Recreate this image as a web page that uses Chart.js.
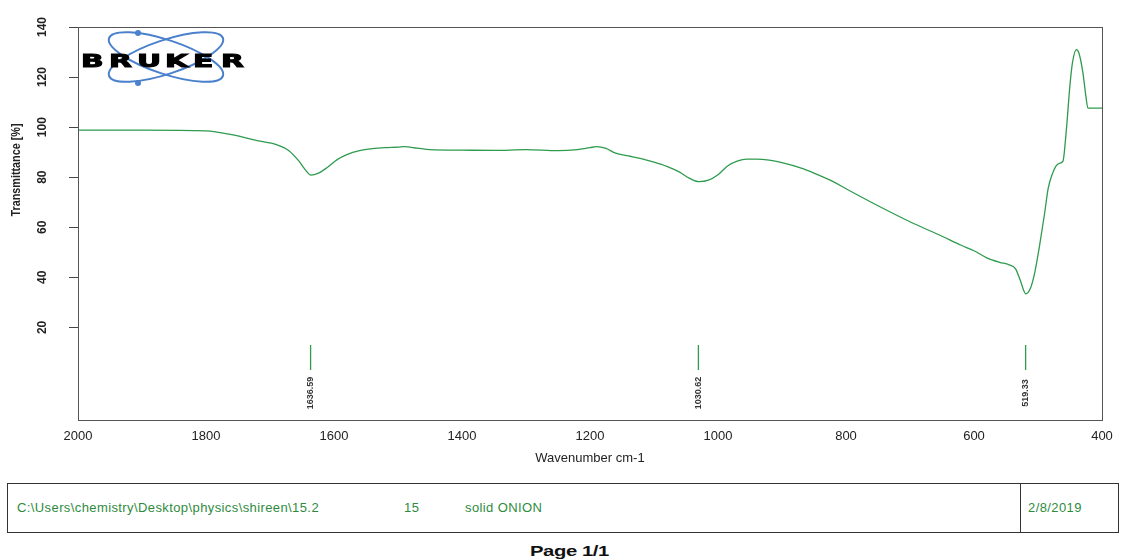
<!DOCTYPE html>
<html>
<head>
<meta charset="utf-8">
<script src="https://cdn.jsdelivr.net/npm/chart.js@4/dist/chart.umd.min.js"></script>
<style>
  body { margin: 0; background: #fff; width: 1122px; height: 559px; position: relative; overflow: hidden; font-family: "Liberation Sans", Arial, sans-serif; }
  #wrap { position: absolute; left: 0; top: 0; width: 1122px; height: 470px; }
  #info { position: absolute; left: 7px; top: 483px; width: 1110px; height: 48px; border: 1px solid #333; }
  #info .sep { position: absolute; left: 1012px; top: 0; height: 48px; border-left: 1px solid #333; }
  #info span { position: absolute; top: 16px; font-size: 13px; color: #2e8b3e; letter-spacing: 0.4px; }
  #page { position: absolute; top: 542px; left: 530px; font-size: 15px; font-weight: bold; letter-spacing: -0.3px; color: #111; transform: scaleX(1.35); transform-origin: left top; }
</style>
</head>
<body>
<div id="wrap"><canvas id="ir" width="1122" height="470"></canvas></div>
<div id="info">
  <span style="left:9px">C:\Users\chemistry\Desktop\physics\shireen\15.2</span>
  <span style="left:396px">15</span>
  <span style="left:457px">solid ONION</span>
  <div class="sep"></div>
  <span style="left:1020px">2/8/2019</span>
</div>
<div id="page">Page 1/1</div>
<script>
// spectrum
const wavenumbers = [2000, 1900, 1800, 1760, 1720, 1690, 1670, 1655, 1645, 1636, 1625, 1610, 1595, 1580, 1560, 1540, 1520, 1500, 1490, 1470, 1450, 1400, 1350, 1300, 1250, 1220, 1200, 1190, 1175, 1160, 1140, 1120, 1100, 1080, 1060, 1045, 1030, 1015, 1000, 985, 970, 955, 940, 920, 900, 870, 850, 820, 800, 750, 700, 650, 620, 600, 580, 560, 545, 535, 528, 519, 512, 505, 498, 490, 484, 478, 472, 466, 461, 456, 450, 446, 440, 436, 430, 425, 422, 420, 400];
const transmittance = [98.8, 98.8, 98.5, 97.0, 94.6, 93.0, 90.5, 86.5, 83.0, 80.8, 81.5, 84.0, 87.0, 89.0, 90.6, 91.4, 91.8, 92.0, 92.2, 91.6, 91.0, 90.8, 90.7, 91.0, 90.6, 91.0, 91.8, 92.2, 91.5, 89.6, 88.5, 87.4, 86.0, 84.3, 82.0, 79.6, 78.2, 78.8, 81.0, 84.5, 86.4, 87.2, 87.2, 86.8, 85.8, 83.6, 81.6, 78.2, 75.4, 68.6, 62.2, 56.4, 52.8, 50.6, 47.8, 46.0, 45.0, 43.4, 39.0, 33.4, 35.5, 42.0, 52.0, 65.0, 75.6, 81.0, 84.4, 85.6, 86.4, 98.0, 117.0, 126.0, 131.0, 129.5, 122.0, 112.0, 107.6, 107.6, 107.6];
const peakPositions = [1636.59, 1030.62, 519.33];
const peakLabels = ['1636.59', '1030.62', '519.33'];
const yTicks = [20, 40, 60, 80, 100, 120, 140];
const xTicks = [2000, 1800, 1600, 1400, 1200, 1000, 800, 600, 400];

const green = '#2e9b4e';
const spectrum = wavenumbers.map((w, i) => ({ x: w, y: transmittance[i] }));
const markers = [];
peakPositions.forEach(p => { markers.push({ x: p, y: 13 }, { x: p, y: 3 }, { x: p, y: null }); });

const extras = {
  id: 'extras',
  afterDraw(chart) {
    const ctx = chart.ctx, a = chart.chartArea;
    const xs = chart.scales.x, ys = chart.scales.y;
    ctx.save();
    // frame
    ctx.strokeStyle = '#555';
    ctx.lineWidth = 1;
    ctx.strokeRect(a.left + 0.5, a.top + 0.5, a.right - a.left, a.bottom - a.top);
    // y tick labels, rotated
    ctx.fillStyle = '#222';
    ctx.font = 'bold 12px "Liberation Sans", Arial';
    ctx.textAlign = 'center';
    ctx.textBaseline = 'middle';
    yTicks.forEach(v => {
      ctx.save();
      ctx.translate(43, ys.getPixelForValue(v));
      ctx.rotate(-Math.PI / 2);
      ctx.fillText(String(v), 0, 0);
      ctx.restore();
    });
    // y title
    ctx.save();
    ctx.translate(17, 170);
    ctx.rotate(-Math.PI / 2);
    ctx.scale(0.9, 1);
    ctx.font = 'bold 12px "Liberation Sans", Arial';
    ctx.fillText('Transmittance [%]', 0, 0);
    ctx.restore();
    // peak labels
    ctx.font = 'bold 9px "Liberation Sans", Arial';
    ctx.fillStyle = '#333';
    peakPositions.forEach((p, i) => {
      ctx.save();
      ctx.translate(xs.getPixelForValue(p), 393);
      ctx.rotate(-Math.PI / 2);
      ctx.fillText(peakLabels[i], 0, 0);
      ctx.restore();
    });
    // Bruker logo
    ctx.strokeStyle = '#4a80cc';
    ctx.lineWidth = 2;
    [0.32, -0.32].forEach(r => {
      ctx.beginPath();
      ctx.ellipse(166, 57, 60, 17, r, 0, Math.PI * 2);
      ctx.stroke();
    });
    ctx.fillStyle = '#4a80cc';
    [[138, 33], [138, 83]].forEach(([x, y]) => { ctx.beginPath(); ctx.arc(x, y, 3, 0, Math.PI * 2); ctx.fill(); });
    ctx.fillStyle = '#000';
    ctx.strokeStyle = '#000';
    ctx.lineWidth = 1;
    ctx.font = 'bold 18px "DejaVu Sans", Arial';
    ctx.textAlign = 'left';
    ctx.textBaseline = 'alphabetic';
    'BRUKER'.split('').forEach((c, i) => {
      ctx.save();
      ctx.translate(81 + i * 28, 67);
      ctx.scale(1.65, 1);
      ctx.fillText(c, 0, 0);
      ctx.strokeText(c, 0, 0);
      ctx.restore();
    });
    ctx.restore();
  }
};

new Chart(document.getElementById('ir'), {
  type: 'line',
  data: {
    datasets: [
      { data: spectrum, borderColor: green, borderWidth: 1.3, pointRadius: 0, tension: 0.4, cubicInterpolationMode: 'monotone' },
      { data: markers, borderColor: green, borderWidth: 1.3, pointRadius: 0, spanGaps: false }
    ]
  },
  options: {
    responsive: false,
    animation: false,
    layout: { padding: { top: 27, right: 20, left: 0, bottom: 0 } },
    plugins: { legend: { display: false }, tooltip: { enabled: false } },
    scales: {
      x: {
        type: 'linear', reverse: true, min: 400, max: 2000,
        afterBuildTicks: s => { s.ticks = xTicks.map(v => ({ value: v })); },
        afterFit: s => { s.height = 50; },
        grid: { display: false, drawTicks: false },
        border: { color: '#333', width: 1 },
        ticks: { color: '#222', font: { family: '"Liberation Sans", Arial', size: 13 }, padding: 9, maxRotation: 0, callback: v => String(v) },
        title: { display: true, text: 'Wavenumber cm-1', color: '#222', font: { family: '"Liberation Sans", Arial', size: 13 }, padding: { top: 2 } }
      },
      y: {
        type: 'linear', min: -17, max: 140,
        afterBuildTicks: s => { s.ticks = yTicks.map(v => ({ value: v })); },
        afterFit: s => { s.width = 78; },
        grid: { drawOnChartArea: false, tickLength: 9, color: '#444' },
        border: { color: '#333', width: 1 },
        ticks: { callback: () => '' }
      }
    }
  },
  plugins: [extras]
});
</script>
</body>
</html>
